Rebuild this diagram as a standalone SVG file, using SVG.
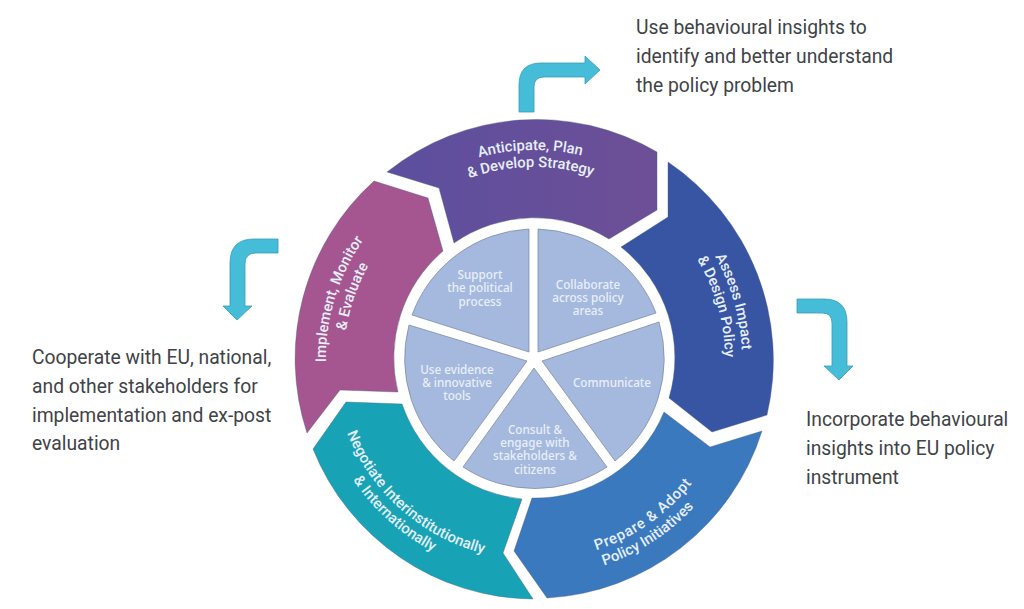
<svg xmlns="http://www.w3.org/2000/svg" xmlns:xlink="http://www.w3.org/1999/xlink" width="1024" height="609" viewBox="0 0 1024 609">
<style>
.note{font:19.3px Roboto,"Liberation Sans",sans-serif;fill:#404347}
.ring{font:500 14.8px Roboto,"Liberation Sans",sans-serif;fill:#e6eff9;text-anchor:middle}
.pie{font:500 11.7px "Noto Sans","Liberation Sans",sans-serif;fill:#e8eff9;text-anchor:middle}
.wedge{fill:#a5b9de;stroke:#76849f;stroke-width:.7}
.seg{stroke:#4a5a80;stroke-width:.4}
.arrow{fill:#45bcd8;stroke:#3a9db5;stroke-width:.8}
</style>
<defs>
<linearGradient id="pg" x1="0" x2="1" y1="0" y2="0"><stop offset="0" stop-color="#5c4f9f"/><stop offset="1" stop-color="#6d4f96"/></linearGradient>
<path id="a1" d="M351.2 257.7A209 209 0 0 1 713.2 251.4"/>
<path id="a2" d="M366.1 265.9A192 192 0 0 1 698.6 260.1"/>
<path id="b1" d="M584.3 157.2A208 208 0 0 1 683.6 503.5"/>
<path id="b2" d="M580.2 173.7A191 191 0 0 1 671.4 491.7"/>
<path id="c1" d="M381.9 500.9A208 208 0 0 1 487.2 156.3"/>
<path id="c2" d="M390.6 483.7A190 190 0 0 1 497.7 172.5"/>
<path id="d1" d="M337 318.9A201 201 0 0 0 597.8 549.6"/>
<path id="d2" d="M321.3 313.8A217.5 217.5 0 0 0 601.2 565.9"/>
<path id="e1" d="M449.1 541.2A201 201 0 0 0 734.2 341.5"/>
<path id="e2" d="M435 553.2A218 218 0 0 0 751.7 347.6"/>
</defs>
<rect width="1024" height="609" fill="#fff"/>
<g id="node-anticipate">
<path class="seg" fill="url(#pg)" d="M387 172A239 239 0 0 1 657 152V210L609 239A141 141 0 0 0 454 243L439 188Z"/>
<text class="ring"><textPath href="#a1" startOffset="50%">Anticipate, Plan</textPath></text>
<text class="ring"><textPath href="#a2" startOffset="50%">&amp; Develop Strategy</textPath></text>
</g>
<g id="node-assess">
<path class="seg" fill="#3855a3" d="M668 162A239 239 0 0 1 767 415L712 432L669 398A141 141 0 0 0 621 247L668 217Z"/>
<text class="ring"><textPath href="#b1" startOffset="50%">Assess Impact</textPath></text>
<text class="ring"><textPath href="#b2" startOffset="50%">&amp; Design Policy</textPath></text>
</g>
<g id="node-prepare">
<path class="seg" fill="#3a79bd" d="M664 412L710 447L762 431A239 239 0 0 1 547 598L514 551L532 498A139 139 0 0 0 664 412Z"/>
<text class="ring" style="letter-spacing:.7px"><textPath href="#e1" startOffset="50%">Prepare &amp; Adopt</textPath></text>
<text class="ring"><textPath href="#e2" startOffset="50%">Policy Initiatives</textPath></text>
</g>
<g id="node-negotiate">
<path class="seg" fill="#17a3b5" d="M522 499L503 553L533 599A239 239 0 0 1 313 449L346 402L402 404A141 141 0 0 0 522 499Z"/>
<text class="ring"><textPath href="#d1" startOffset="50%">Negotiate Interinstitutionally</textPath></text>
<text class="ring"><textPath href="#d2" startOffset="50%">&amp; Internationally</textPath></text>
</g>
<g id="node-implement">
<path class="seg" fill="#a5558f" d="M374 181A239 239 0 0 0 307 433L340 390L398 392A141 141 0 0 1 443 251L428 198Z"/>
<text class="ring"><textPath href="#c1" startOffset="50%">Implement, Monitor</textPath></text>
<text class="ring"><textPath href="#c2" startOffset="50%">&amp; Evaluate</textPath></text>
</g>
<g id="node-support">
<path class="wedge" d="M529 229V352L412 315A131 131 0 0 1 529 229Z"/>
<text class="pie"><tspan x="480" y="279">Support</tspan><tspan x="480" y="292">the political</tspan><tspan x="480" y="306">process</tspan></text>
</g>
<g id="node-collaborate">
<path class="wedge" d="M538 229V352L656 313A131 131 0 0 0 538 229Z"/>
<text class="pie"><tspan x="588" y="289">Collaborate</tspan><tspan x="588" y="302">across policy</tspan><tspan x="588" y="315">areas</tspan></text>
</g>
<g id="node-communicate">
<path class="wedge" d="M659 322A131 131 0 0 1 615 461L542 361Z"/>
<text class="pie" x="612" y="387">Communicate</text>
</g>
<g id="node-consult">
<path class="wedge" d="M534 368L607 467A131 131 0 0 1 463 467Z"/>
<text class="pie"><tspan x="535" y="434">Consult &amp;</tspan><tspan x="535" y="447">engage with</tspan><tspan x="535" y="460">stakeholders &amp;</tspan><tspan x="535" y="474">citizens</tspan></text>
</g>
<g id="node-evidence">
<path class="wedge" d="M409 325L527 361L454 461A131 131 0 0 1 409 325Z"/>
<text class="pie"><tspan x="457" y="374">Use evidence</tspan><tspan x="457" y="387">&amp; innovative</tspan><tspan x="457" y="400">tools</tspan></text>
</g>
<g id="connectors">
<path class="arrow" d="M519 112V85Q519 63 541 63H585V56L600 70L585 84V77H544Q534 77 534 87V112Z"/>
<path class="arrow" d="M278 239V253H256Q245 253 245 264V306H252L237 320L223 306H230V263Q230 239 254 239Z"/>
<path class="arrow" d="M797 299V313H822Q832 313 832 323V366H824L839 380L853 366H847V322Q847 299 824 299Z"/>
</g>
<g id="node-note-top">
<text class="note"><tspan x="636" y="34">Use behavioural insights to</tspan><tspan x="636" y="63">identify and better understand</tspan><tspan x="636" y="92">the policy problem</tspan></text>
</g>
<g id="node-note-left">
<text class="note"><tspan x="32" y="364">Cooperate with EU, national,</tspan><tspan x="32" y="393">and other stakeholders for</tspan><tspan x="32" y="422">implementation and ex-post</tspan><tspan x="32" y="450">evaluation</tspan></text>
</g>
<g id="node-note-right">
<text class="note"><tspan x="806" y="426">Incorporate behavioural</tspan><tspan x="806" y="455">insights into EU policy</tspan><tspan x="806" y="484">instrument</tspan></text>
</g>
</svg>
